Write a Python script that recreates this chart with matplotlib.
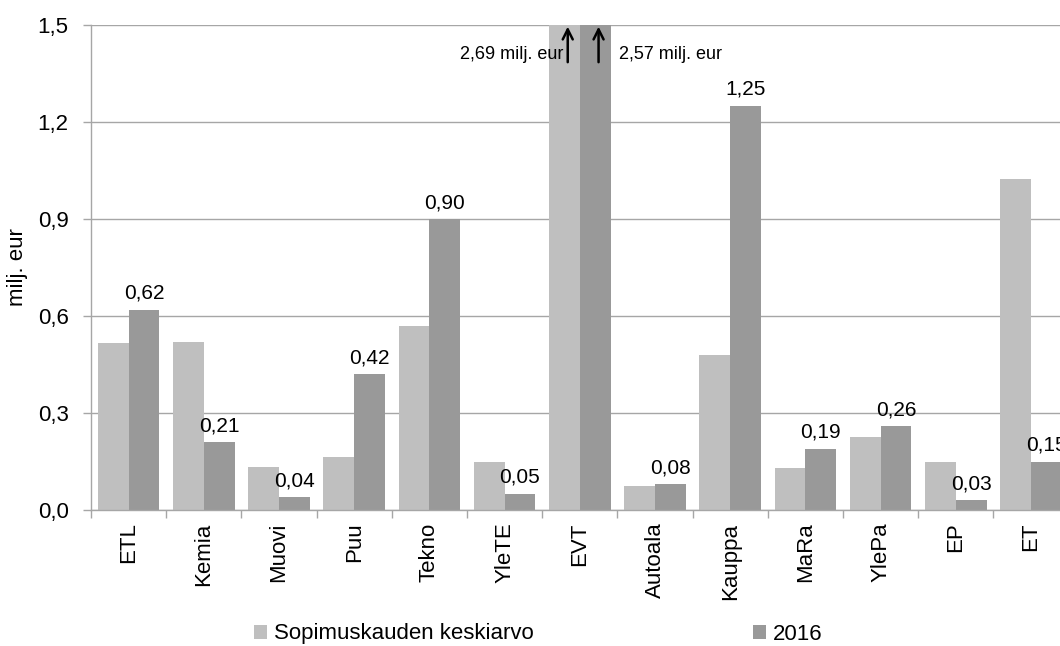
import numpy as np
import matplotlib
matplotlib.use("Agg")
import matplotlib.pyplot as plt
from matplotlib.ticker import FixedLocator, FuncFormatter

plt.rcParams['font.family'] = ['Liberation Sans', 'DejaVu Sans']

# Data (milj. eur)
categories = ['ETL', 'Kemia', 'Muovi', 'Puu', 'Tekno', 'YleTE', 'EVT',
              'Autoala', 'Kauppa', 'MaRa', 'YlePa', 'EP', 'ET']
avg_period = [0.516, 0.52, 0.132, 0.164, 0.568, 0.15, 2.69,
              0.074, 0.478, 0.131, 0.227, 0.15, 1.023]
year_2016 = [0.62, 0.21, 0.04, 0.42, 0.90, 0.05, 2.57,
             0.08, 1.25, 0.19, 0.26, 0.03, 0.15]
series_names = ['Sopimuskauden keskiarvo', '2016']
y_ticks = [0.0, 0.3, 0.6, 0.9, 1.2, 1.5]
y_max = 1.5

light = '#bfbfbf'
dark = '#999999'
grey = '#a6a6a6'

fig = plt.figure(figsize=(10.6, 6.46), dpi=100)
ax = fig.add_axes([0.0858, 0.2105, 0.9223, 0.7508])

x = np.arange(len(categories))
w = 0.41
b1 = ax.bar(x - w / 2, avg_period, w, color=light, label=series_names[0], zorder=2)
b2 = ax.bar(x + w / 2, year_2016, w, color=dark, label=series_names[1], zorder=2)

ax.set_xlim(-0.5, len(categories) - 0.5)
ax.set_ylim(0, y_max)

# y axis
ax.yaxis.set_major_locator(FixedLocator(y_ticks))
ax.yaxis.set_major_formatter(FuncFormatter(lambda v, p: f"{v:.1f}".replace('.', ',')))
ax.tick_params(axis='y', length=6, width=1, color=grey, pad=10, labelsize=16)
ax.set_ylabel('milj. eur', fontsize=16)
ax.yaxis.set_label_coords(-0.064, 0.5)
ax.grid(axis='y', color=grey, linewidth=1.0, zorder=0)
ax.set_axisbelow(True)

# x axis: labels at centres, ticks at category boundaries
ax.set_xticks(x)
ax.set_xticklabels(categories, rotation=90, fontsize=16)
ax.set_xticks(np.arange(len(categories) + 1) - 0.5, minor=True)
ax.tick_params(axis='x', which='major', length=0, pad=9)
ax.tick_params(axis='x', which='minor', length=6, width=1, color=grey)

for s in ['top', 'right']:
    ax.spines[s].set_visible(False)
for s in ['left', 'bottom']:
    ax.spines[s].set_color(grey)
    ax.spines[s].set_linewidth(1.0)

# data labels on 2016 bars (those within the axis)
for xi, v in zip(x, year_2016):
    if v <= y_max:
        ax.annotate(f"{v:.2f}".replace('.', ','), (xi + w / 2, v),
                    xytext=(0, 5), textcoords='offset points',
                    ha='center', va='bottom', fontsize=15, annotation_clip=False)

# bars exceeding the axis: arrows and value notes
i = categories.index('EVT')
ya, yb = 1.385, 1.495
for xb in [i - w / 2, i + w / 2]:
    ax.annotate('', xy=(xb + 0.045, yb), xytext=(xb + 0.045, ya),
                arrowprops=dict(arrowstyle='->', color='black', lw=1.8,
                                mutation_scale=18, shrinkA=0, shrinkB=0))
ax.text(i - 0.224, 1.408, f"{avg_period[i]:.2f}".replace('.', ',') + ' milj. eur',
        ha='right', va='center', fontsize=13)
ax.text(i + 0.52, 1.408, f"{year_2016[i]:.2f}".replace('.', ',') + ' milj. eur',
        ha='left', va='center', fontsize=13)

fig.legend(handles=[b1, b2], labels=series_names, loc='center left',
           bbox_to_anchor=(254 / 1060, 1 - 634 / 646), ncol=2, frameon=False,
           fontsize=16, handlelength=0.58, handleheight=0.58,
           handletextpad=0.3, columnspacing=9.9, borderpad=0, borderaxespad=0)

fig.savefig('out.png', dpi=100)
